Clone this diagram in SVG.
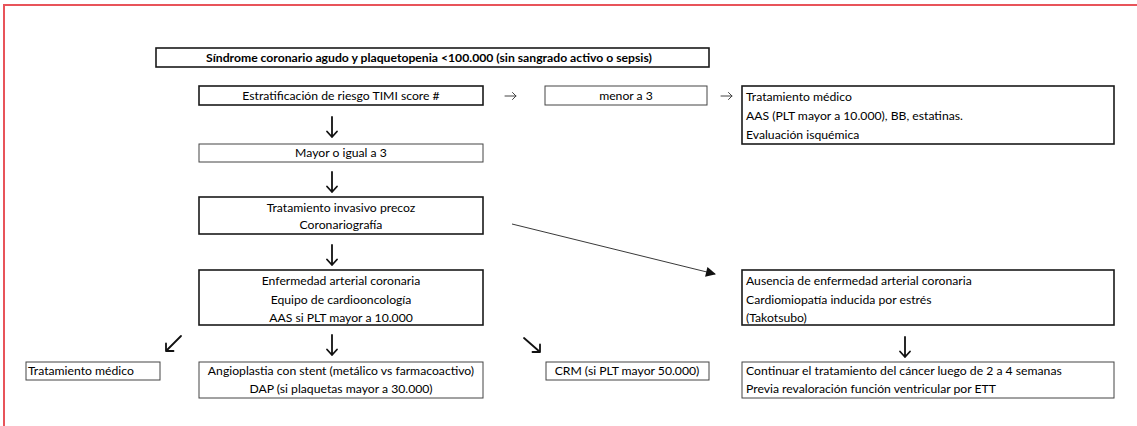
<svg xmlns="http://www.w3.org/2000/svg" width="1137" height="426" viewBox="0 0 1137 426">
<defs>
<style>
.bg{fill:#ffffff}
.frame{stroke:#e8545a;stroke-width:2;fill:none}
.thick{fill:#ffffff;stroke:#1a1a1a;stroke-width:1.6}
.thin{fill:#ffffff;stroke:#444444;stroke-width:1}
text{font-family:Lato,"Open Sans","Liberation Sans",sans-serif;font-size:12.2px;fill:#000000}
.c{text-anchor:middle}
.b{font-weight:bold}
.arr{fill:none;stroke:#111111;stroke-width:1.8;stroke-linecap:round;stroke-linejoin:round}
.sm{fill:none;stroke:#444444;stroke-width:1;stroke-linecap:round;stroke-linejoin:round}
.diag{stroke:#222222;stroke-width:0.9;fill:none}
</style>
<marker id="tri" viewBox="0 0 10 10" refX="9" refY="5" markerWidth="12" markerHeight="10" markerUnits="userSpaceOnUse" orient="auto">
<path d="M0,0 L10,5 L0,10 z" fill="#111111"/>
</marker>
</defs>
<rect class="bg" x="0" y="0" width="1137" height="426"/>
<path class="frame" d="M4,426 V5 H1137"/>

<g id="n-title"><rect class="thick" x="156" y="48" width="553" height="19"/><text class="b" x="206" y="62">Síndrome coronario agudo y plaquetopenia &lt;100.000 (sin sangrado activo o sepsis)</text></g>
<g id="n-timi"><rect class="thick" x="199" y="86" width="284" height="19"/><text class="c" x="341" y="100">Estratificación de riesgo TIMI score #</text></g>
<g id="n-menor"><rect class="thin" x="545" y="86" width="162" height="19"/><text class="c" x="626" y="100">menor a 3</text></g>
<g id="n-tratmed1"><rect class="thick" x="742" y="86" width="372" height="58"/><text x="746" y="101">Tratamiento médico</text><text x="746" y="120">AAS (PLT mayor a 10.000), BB, estatinas.</text><text x="746" y="139">Evaluación isquémica</text></g>
<g id="n-mayor"><rect class="thin" x="199" y="144" width="284" height="18"/><text class="c" x="341" y="157">Mayor o igual a 3</text></g>
<g id="n-invasivo"><rect class="thick" x="199" y="197" width="284" height="37"/><text class="c" x="341" y="212">Tratamiento invasivo precoz</text><text class="c" x="341" y="229">Coronariografía</text></g>
<g id="n-eac"><rect class="thick" x="199" y="270" width="284" height="55"/><text class="c" x="341" y="285">Enfermedad arterial coronaria</text><text class="c" x="341" y="304">Equipo de cardiooncología</text><text class="c" x="341" y="322">AAS si PLT mayor a 10.000</text></g>
<g id="n-ausencia"><rect class="thick" x="742" y="270" width="372" height="55"/><text x="746" y="285">Ausencia de enfermedad arterial coronaria</text><text x="746" y="304">Cardiomiopatía inducida por estrés</text><text x="746" y="322">(Takotsubo)</text></g>
<g id="n-tratmed2"><rect class="thin" x="26" y="362" width="134" height="18"/><text x="28" y="375">Tratamiento médico</text></g>
<g id="n-angio"><rect class="thin" x="199" y="362" width="284" height="36"/><text class="c" x="341" y="375">Angioplastia con stent (metálico vs farmacoactivo)</text><text class="c" x="341" y="393">DAP (si plaquetas mayor a 30.000)</text></g>
<g id="n-crm"><rect class="thin" x="546" y="362" width="163" height="18"/><text class="c" x="627" y="375">CRM (si PLT mayor 50.000)</text></g>
<g id="n-continuar"><rect class="thin" x="742" y="362" width="372" height="36"/><text x="746" y="375">Continuar el tratamiento del cáncer luego de 2 a 4 semanas</text><text x="746" y="393">Previa revaloración función ventricular por ETT</text></g>

<g id="connectors">
<path class="sm" d="M505,96 H516 M512.5,92.5 L516,96 L512.5,99.5"/>
<path class="sm" d="M721,96 H732 M728.5,92.5 L732,96 L728.5,99.5"/>
<path class="arr" d="M332,117 V137 M327,131.5 L332,137 L337,131.5"/>
<path class="arr" d="M332,172 V192 M327,186.5 L332,192 L337,186.5"/>
<path class="arr" d="M332,245 V265 M327,259.5 L332,265 L337,259.5"/>
<path class="arr" d="M332,335 V355 M327,349.5 L332,355 L337,349.5"/>
<path class="arr" d="M905,337 V357 M900,351.5 L905,357 L910,351.5"/>
<path class="arr" d="M181,336 L166,351 M166,343.5 L166,351 L173.5,351"/>
<path class="arr" d="M524,338 L540,352 M540,344.5 L540,352 L532.5,352"/>
<path class="diag" d="M512,224 L715,274" marker-end="url(#tri)"/>
</g>
</svg>
